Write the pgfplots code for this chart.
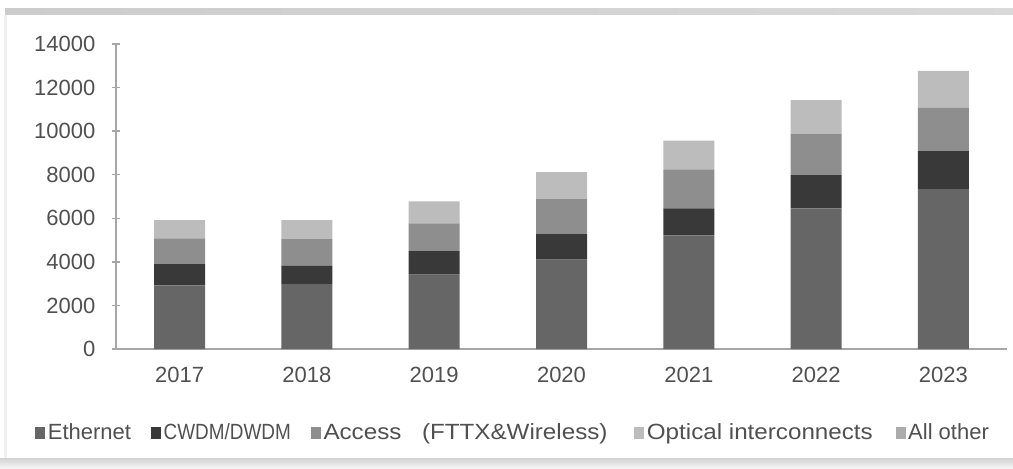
\documentclass[border=0pt]{standalone}
\usepackage{fontspec}
\setmainfont{Liberation Sans}
\usepackage{pgfplots}
\pgfplotsset{compat=1.18}

\definecolor{eth}{HTML}{666666}
\definecolor{cwdm}{HTML}{393939}
\definecolor{acc}{HTML}{8E8E8E}
\definecolor{opt}{HTML}{BCBCBC}
\definecolor{oth}{HTML}{ABABAB}
\definecolor{axisgray}{HTML}{A6A6A6}
\definecolor{labelgray}{HTML}{505050}

\begin{document}
\begin{tikzpicture}
\path[use as bounding box] (0,0) rectangle (759.75pt,351pt);
% frame round the chart
\fill[left color=gray!40, right color=gray!30] (3.75pt,339.75pt) rectangle (759.75pt,344.25pt);
\fill[gray!12] (3pt,7.5pt) rectangle (5.25pt,339.75pt);
\fill[top color=gray!35, bottom color=gray!8] (0pt,0pt) rectangle (759.75pt,7.5pt);
\begin{axis}[
    at={(87pt,89.25pt)}, anchor=south west,
    scale only axis,
    width=668.25pt, height=228.75pt,
    ybar stacked,
    bar width=38.25pt,
    xmin=-0.5, xmax=6.5,
    ymin=0, ymax=14000,
    axis x line=bottom, axis y line=left,
    axis line style={draw=axisgray, line width=1.2pt, -},
    xtick={0,...,6},
    xticklabels={2017,2018,2019,2020,2021,2022,2023},
    major x tick style={draw=none},
    extra x ticks={0.5,1.5,2.5,3.5,4.5,5.5,6.5},
    extra x tick labels={},
    extra x tick style={major tick length=5pt, tick style={draw=axisgray, line width=1pt}},
    ytick={0,2000,...,14000},
    scaled y ticks=false,
    major tick length=6pt,
    ytick style={draw=axisgray, line width=1pt},
    tick label style={font=\fontsize{16.5}{19}\selectfont, text=labelgray},
    /pgf/number format/1000 sep={},
    /pgf/number format/assume math mode=true,
    yticklabel style={xshift=-9pt},
    xticklabel style={yshift=-7pt},
    legend columns=5,
    legend style={draw=none, fill=none, at={(0.446,-0.275)}, anchor=center,
        font=\fontsize{16.5}{19}\selectfont, text=labelgray,
        /tikz/every even column/.append style={column sep=13pt}},
    legend image code/.code={\fill[#1] (2pt,-4.5pt) rectangle (9.5pt,4.5pt);},
]
\addplot[fill=eth, draw=none] coordinates {(0,2920) (1,2980) (2,3410) (3,4100) (4,5215) (5,6450) (6,7340)};
\addplot[fill=cwdm, draw=none] coordinates {(0,980) (1,840) (2,1085) (3,1175) (4,1240) (5,1530) (6,1745)};
\addplot[fill=acc, draw=none] coordinates {(0,1180) (1,1220) (2,1270) (3,1605) (4,1790) (5,1910) (6,1985)};
\addplot[fill=opt, draw=none] coordinates {(0,840) (1,880) (2,1010) (3,1240) (4,1315) (5,1530) (6,1700)};
\addplot[fill=oth, draw=none] coordinates {(0,0) (1,0) (2,0) (3,0) (4,0) (5,0) (6,0)};
\legend{Ethernet, \scalebox{0.86}[1]{CWDM/DWDM}, \scalebox{1.1}[1]{Access\hspace{14pt}(FTTX\&Wireless)}\rule{5pt}{0pt}, \scalebox{1.1}[1]{Optical interconnects}\rule{2pt}{0pt}, All other}
\end{axis}
\end{tikzpicture}
\end{document}
